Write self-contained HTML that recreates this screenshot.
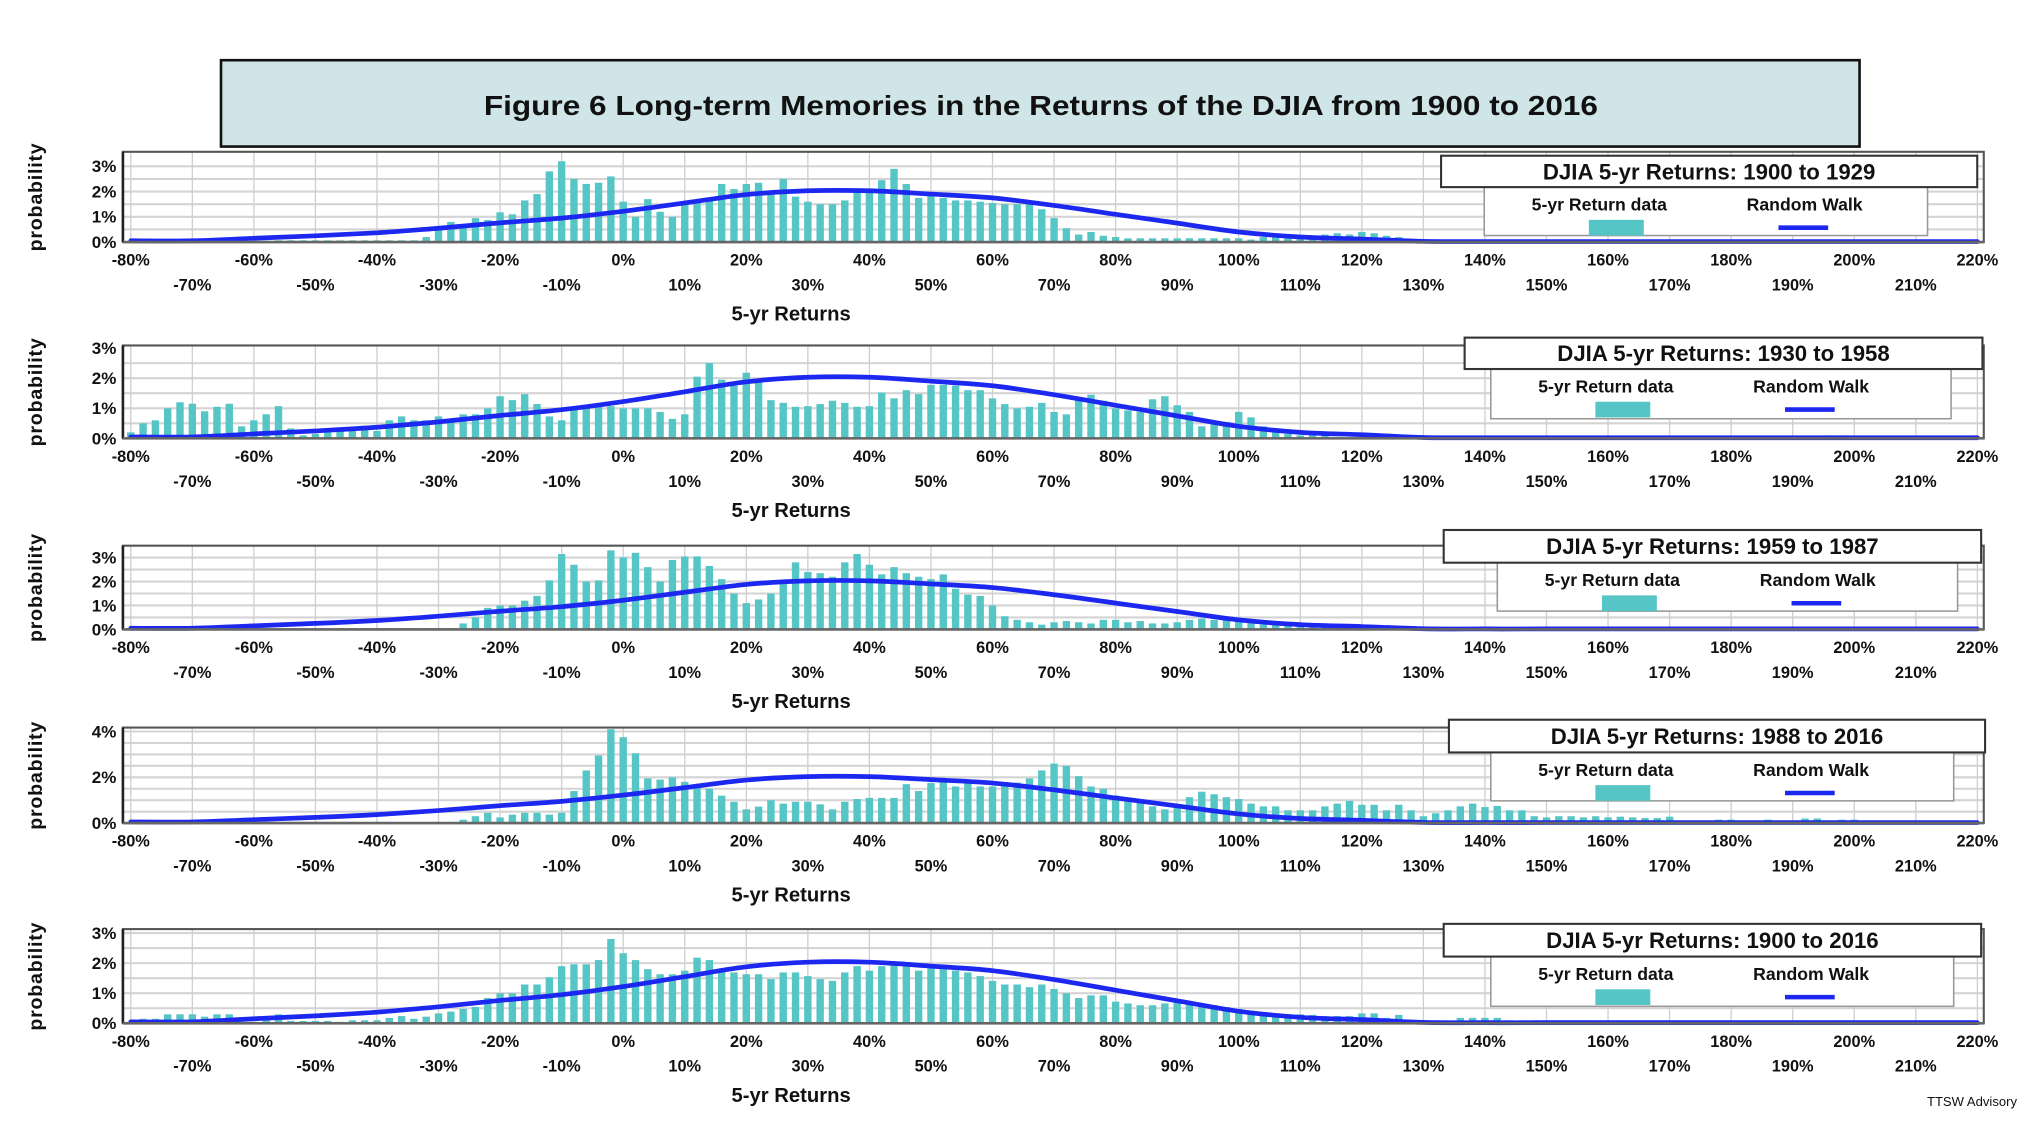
<!DOCTYPE html>
<html>
<head>
<meta charset="utf-8">
<style>
  html,body{margin:0;padding:0;background:#fff;}
  svg{display:block;}
  text{font-family:"Liberation Sans",Arial,sans-serif;font-weight:bold;fill:#111;}
</style>
</head>
<body>
<svg id="chart" width="2040" height="1128" viewBox="0 0 1560 862" preserveAspectRatio="none" xmlns="http://www.w3.org/2000/svg">
  <rect x="0" y="0" width="1560" height="862" fill="#fff"/>
  <g>
    <rect x="169" y="46" width="1253" height="66" fill="#cfe5e8" stroke="#111" stroke-width="2"/>
    <text x="796" y="88" text-anchor="middle" font-size="21" textLength="852" lengthAdjust="spacingAndGlyphs">Figure 6 Long-term Memories in the Returns of the DJIA from 1900 to 2016</text>
  </g>
  <text x="1508" y="845" text-anchor="middle" font-size="10" style="font-weight:normal">TTSW Advisory</text>
</svg>
<script>
// ---- data ----
const binStart = -80;          // first bin centre (%)
const binStep = 2;             // bin width (%)
const xTickLabels = [-80,-70,-60,-50,-40,-30,-20,-10,0,10,20,30,40,50,60,70,80,90,100,110,120,130,140,150,160,170,180,190,200,210,220];
const rwPct = [-80,-70,-60,-50,-40,-30,-20,-10,0,10,20,30,40,50,60,70,80,90,100,110,120,130,140,150,160,170,180,190,200,210,220];
const rwVals = [0.05,0.05,0.15,0.25,0.37,0.55,0.76,0.95,1.22,1.55,1.88,2.03,2.03,1.9,1.75,1.45,1.1,0.75,0.4,0.2,0.12,0.03,0.02,0.02,0.02,0.02,0.02,0.02,0.02,0.02,0.02];
const periods = ["1900 to 1929","1930 to 1958","1959 to 1987","1988 to 2016","1900 to 2016"];
const yTicks1 = [0,1,2,3];
const yTicks4 = [0,2,4];

const p1 = [0,0,0,0,0,0,0,0,0.02,
 0.05,0.05,0.05,0.07,0.07,0.07,0.07,0.07,0.07,0.07,0.07,0.07,0.07,0.07,0.07,
 0.2,0.6,0.8,0.7,0.95,0.87,1.18,1.1,1.65,1.9,2.8,3.2,2.5,2.3,2.35,2.6,1.6,1.0,1.7,1.2,1.0,1.5,1.55,1.65,2.3,2.1,2.3,2.35,1.9,2.5,1.8,1.6,1.5,1.5,1.65,2.0,2.0,2.45,2.9,2.3,1.75,1.9,1.75,1.65,1.65,1.6,1.55,1.5,1.5,1.55,1.3,0.95,0.55,
 0.3,0.4,0.25,0.2,0.15,0.15,0.15,0.15,0.15,0.15,0.15,0.15,0.15,
 0.15,0.1,0.2,0.25,0.2,0.15,0.25,0.3,0.35,0.3,0.4,0.35,0.25,0.2,0.05,
 0.05,0.08,0.05,0.05,0.1,0.08,0.05,0.1,0.08,0.08,0.1,0.1,0.08,0.1,0.1,0.08,0.1,0.1,0.08,0.1,0.1,0.08,0.1,0.1,0.08,0.1,0.08,0.05,0.05,0.05,0.05,0.05,0.05,0.05,0.05,0.05,0.05,0.05,0.05,0.05,0.05,0.05,0.05,0.05,0.05];
const p2 = [0.2,0.5,0.6,1.0,1.2,1.15,0.9,1.05,1.15,0.4,
 0.6,0.8,1.07,0.33,0.1,0.15,0.2,0.25,0.3,0.4,
 0.25,0.6,0.73,0.6,0.6,0.73,0.55,0.8,0.8,1.0,
 1.4,1.27,1.47,1.14,0.73,0.6,0.95,1.07,1.07,1.07,
 1.0,1.0,1.0,0.88,0.65,0.8,2.05,2.5,1.95,1.75,
 2.18,1.95,1.27,1.18,1.05,1.07,1.14,1.25,1.18,1.05,
 1.07,1.52,1.33,1.6,1.47,1.78,1.78,1.75,1.6,1.6,
 1.33,1.14,1.0,1.05,1.18,0.88,
 0.8,1.3,1.45,1.25,1.0,0.93,0.88,1.3,1.4,1.1,
 0.88,0.4,0.5,0.55,0.88,0.7,0.4,0.3,0.15,0.1,
 0.1,0.1,
 0.03,0.03,0.03,0.03,0.03,0.03,0.03,0.03,0.03,0.03,0.03,0.03,0.03,0.03,0.03,0.03,0.03,0.03,0.03,0.03,0.03,0.03,0.03,0.03,0.03,0.03,0.03,0.03,0.03,0.03,0.03,0.03,0.03,0.03,0.03,0.03,0.03,0.03,0.03,0.03,
 0.1,0.1,0.03,0.08,0.03,0.03,0.03,0.03,0.08,0.03,0.03,0.03];
const p3 = [0,0,0,0,0,0,0,0,0,0,0,
 0.05,0.05,0.05,0.05,0.05,0.05,0.05,0.05,0.05,0.05,0.05,0.05,0.05,0.05,0.05,0.05,
 0.25,0.5,0.9,1.0,1.0,1.2,1.4,2.05,3.15,2.7,2.0,2.05,3.3,3.0,3.2,2.6,2.0,2.9,3.05,3.05,2.65,2.1,1.5,1.1,1.25,1.5,1.9,2.8,2.4,2.35,2.2,2.8,3.15,2.7,2.3,2.6,2.35,2.2,2.1,2.3,1.7,1.45,1.4,1.0,0.55,0.4,0.3,0.2,0.3,0.35,
 0.3,0.25,0.4,0.4,0.3,0.35,0.25,0.25,0.3,0.4,0.45,0.4,0.45,0.4,0.3,0.2,0.2,0.25,0.25,0.15,
 0.1,0.1,0.1,0.1,0.1,0.1,
 0.03,0.03,0.03,0.03,0.03,0.03,0.03,0.03,0.03,0.03,0.03,0.03,0.03,0.03,0.03,0.03,0.03,0.03,0.03,0.03,0.03,0.03,0.03,0.03,0.03,0.03,0.03,0.03,0.12,0.03,0.03,0.03,0.03,0.03,0.03,0.03,0.03,0.03,0.03,0.03,0.03,0.03,0.03,0.03,0.03,0.03,0.03];
const p4 = [0,0,0,0,0,0,0,0,0,0,
 0.05,0.05,0.05,0.05,0.05,0.05,0.05,0.05,0.05,0.05,0.05,0.05,0.05,0.05,0.05,0.05,0.05,
 0.15,0.3,0.45,0.25,0.37,0.45,0.45,0.37,0.45,1.4,2.3,2.95,4.1,3.75,3.05,1.95,1.9,2.0,1.8,1.6,1.5,1.2,0.93,0.6,0.72,1.0,0.85,0.93,0.93,0.82,0.6,0.93,1.05,1.1,1.1,1.1,1.7,1.4,1.75,1.9,1.6,1.77,1.6,1.6,1.65,1.77,1.95,2.3,2.6,2.5,
 2.05,1.6,1.5,1.2,1.05,0.97,0.73,0.6,0.8,1.13,1.37,1.26,1.13,1.05,0.85,0.73,0.73,0.56,0.56,0.56,0.73,0.85,0.97,0.8,0.8,0.56,0.8,0.56,0.3,0.43,0.56,0.73,0.85,0.7,0.75,0.56,0.56,0.3,0.25,0.3,0.3,0.25,0.3,0.25,0.28,0.25,0.22,0.22,0.28,
 0.05,0.05,0.05,0.15,0.15,0.05,0.05,0.15,0.05,0.05,0.2,0.2,0.05,0.15,0.15,0.05,0.05,0.05,0.05,0.05,0.05,0.05,0.05,0.05];
const p5 = [0.05,0.15,0.15,0.3,0.3,0.3,0.22,0.3,0.3,0.05,
 0.05,0.22,0.3,0.08,0.08,0.08,0.08,0.05,0.1,0.1,
 0.1,0.18,0.24,0.15,0.22,0.33,0.39,0.48,0.54,0.84,
 1.0,1.0,1.29,1.29,1.53,1.9,1.96,1.96,2.1,2.8,
 2.33,2.1,1.8,1.63,1.63,1.75,2.18,2.1,1.77,1.69,
 1.63,1.63,1.47,1.69,1.69,1.57,1.47,1.41,1.69,1.9,
 1.75,1.9,2.0,2.0,1.75,1.93,1.9,1.75,1.69,1.57,
 1.41,1.29,1.29,1.2,1.29,1.14,
 1.0,0.84,0.93,0.93,0.72,0.66,0.6,0.6,0.66,0.72,0.66,0.66,0.6,0.54,0.48,0.42,0.36,0.3,0.3,0.3,0.28,0.24,0.24,0.24,0.33,0.33,0.18,0.28,0.08,
 0.08,0.08,0.08,0.18,0.18,0.18,0.18,0.1,0.1,0.1,0.1,0.1,0.1,0.1,
 0.06,0.06,0.1,0.06,0.06,0.06,0.06,0.06,0.06,0.06,0.06,0.06,0.06,0.1,0.06,0.06,0.06,0.1,0.06,0.06,0.1,0.06,0.06,0.06,0.06,0.06,0.06,0.06,0.06,0.06,0.06];
const seriesList = [p1,p2,p3,p4,p5];

// ---- layout (not data) ----
const layout = [
  {base:185, k:19.3, top:116, ticks:yTicks1, tb:[1102,119,410,24], lb:[1135,143,339,37]},
  {base:335, k:23,   top:264, ticks:yTicks1, tb:[1120,258,396,24], lb:[1140,282,352,38]},
  {base:481, k:18.3, top:417, ticks:yTicks1, tb:[1104,405,411,25], lb:[1145,430,352,37]},
  {base:629, k:17.5, top:556, ticks:yTicks4, tb:[1108,550,410,25], lb:[1140,575,354,37]},
  {base:782, k:23,   top:710, ticks:yTicks1, tb:[1104,706,411,25], lb:[1140,731,354,38]}
];
const X0 = 100, PX = 4.707, LEFT = 94, RIGHT = 1517;
const svg = document.getElementById('chart');
const NS = 'http://www.w3.org/2000/svg';
function xScale(p){ return X0 + (p + 80) * PX; }
function mk(tag, attrs, parent){
  const e = document.createElementNS(NS, tag);
  for (const k in attrs) e.setAttribute(k, attrs[k]);
  (parent || svg).appendChild(e);
  return e;
}
function smoothPath(pts){
  let d = 'M' + pts[0][0].toFixed(1) + ',' + pts[0][1].toFixed(1);
  for (let i = 0; i < pts.length - 1; i++) {
    const p0 = pts[Math.max(0, i-1)], p1 = pts[i], p2 = pts[i+1], p3 = pts[Math.min(pts.length-1, i+2)];
    const c1x = p1[0] + (p2[0]-p0[0])/6, c1y = p1[1] + (p2[1]-p0[1])/6;
    const c2x = p2[0] - (p3[0]-p1[0])/6, c2y = p2[1] - (p3[1]-p1[1])/6;
    d += ' C' + c1x.toFixed(1) + ',' + c1y.toFixed(1) + ' ' + c2x.toFixed(1) + ',' + c2y.toFixed(1) + ' ' + p2[0].toFixed(1) + ',' + p2[1].toFixed(1);
  }
  return d;
}

layout.forEach((L, pi) => {
  const yScale = v => L.base - v * L.k;
  const g = mk('g', {});
  
  

  mk('rect', {x:LEFT, y:L.top, width:RIGHT-LEFT, height:L.base-L.top+2, fill:'#fff'}, g);
  for (let v = 0.5; yScale(v) > L.top + 2; v += 0.5) {
    const gl = mk('line', {x1:LEFT, x2:RIGHT, y1:yScale(v), y2:yScale(v), stroke:'#d4d4d4', 'stroke-width':1.6}, g);
    
    
  }
  xTickLabels.forEach(t => {
    const vl = mk('line', {x1:xScale(t), x2:xScale(t), y1:L.top, y2:L.base, stroke:'#cfcfcf', 'stroke-width':1}, g);
    
    
  });

  const data = seriesList[pi];
  data.forEach((v, i) => {
    if (v <= 0) return;
    const p = binStart + i * binStep;
    const bw = binStep * PX * 0.6;
    const r = mk('rect', {x:xScale(p)-bw/2, y:yScale(v), width:bw, height:v*L.k, fill:'#55c5c5'}, g);
    
    
  });

  const pts = rwPct.map((p, i) => [xScale(p), yScale(rwVals[i])]);
  const pl = mk('path', {d:smoothPath(pts), fill:'none', stroke:'#1c28f0', 'stroke-width':3.6, 'stroke-linejoin':'round', 'stroke-linecap':'round'}, g);
  
  

  mk('rect', {x:LEFT, y:L.top, width:RIGHT-LEFT, height:L.base-L.top, fill:'none', stroke:'#555', 'stroke-width':1.6}, g);
  mk('line', {x1:LEFT, x2:LEFT, y1:L.top, y2:L.base, stroke:'#222', 'stroke-width':2}, g);
  mk('line', {x1:LEFT, x2:RIGHT, y1:L.base, y2:L.base, stroke:'#666', 'stroke-width':2}, g);

  L.ticks.forEach(t => {
    const tx = mk('text', {x:89, y:yScale(t)+4.5, 'text-anchor':'end', 'font-size':13}, g);
    tx.textContent = t + '%';
    
    
  });
  const yt = mk('text', {x:0, y:0, 'text-anchor':'middle', 'font-size':15, 'letter-spacing':'0.6',
    transform:'translate(32,' + ((L.top + L.base)/2) + ') rotate(-90)'}, g);
  yt.textContent = 'probability';
  
  

  xTickLabels.forEach((t, i) => {
    const even = i % 2 === 0;
    const tx = mk('text', {x:xScale(t), y:L.base + (even ? 18 : 37), 'text-anchor':'middle', 'font-size':12.5}, g);
    tx.textContent = t + '%';
    
    
  });
  const xt = mk('text', {x:605, y:L.base + 60, 'text-anchor':'middle', 'font-size':15.5}, g);
  xt.textContent = '5-yr Returns';
  
  

  const lg = mk('g', {}, g);
  
  
  const [lx, ly, lw, lh] = L.lb;
  mk('rect', {x:lx, y:ly, width:lw, height:lh, fill:'#fff', stroke:'#999', 'stroke-width':1.2}, lg);
  const [tx0, ty0, tw, th] = L.tb;
  mk('rect', {x:tx0, y:ty0, width:tw, height:th, fill:'#fff', stroke:'#333', 'stroke-width':1.6}, lg);
  const tt = mk('text', {x:tx0 + tw/2, y:ty0 + th/2 + 6, 'text-anchor':'middle', 'font-size':17}, lg);
  tt.textContent = 'DJIA 5-yr Returns: ' + periods[pi];
  
  
  const e1 = mk('text', {x:lx + 88, y:ly + 18, 'text-anchor':'middle', 'font-size':13.5}, lg);
  e1.textContent = '5-yr Return data';
  
  
  const e2 = mk('text', {x:lx + 245, y:ly + 18, 'text-anchor':'middle', 'font-size':13.5}, lg);
  e2.textContent = 'Random Walk';
  
  
  const sw = mk('rect', {x:lx + 80, y:ly + 25, width:42, height:12, fill:'#55c5c5'}, lg);
  
  
  const sl = mk('line', {x1:lx + 225, x2:lx + 263, y1:ly + 31, y2:ly + 31, stroke:'#1c28f0', 'stroke-width':3.5}, lg);
  
  
});
</script>
</body>
</html>
